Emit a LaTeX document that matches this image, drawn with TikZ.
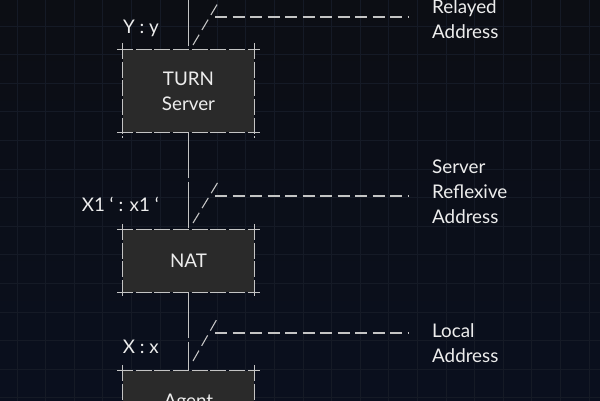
\documentclass[tikz,border=0pt]{standalone}
\usepackage{fontspec}
\setmainfont{Lato}

\definecolor{bgtop}{HTML}{0C0E14}
\definecolor{bgbot}{HTML}{0A0F1E}
\definecolor{gridcol}{HTML}{151A26}
\definecolor{boxfill}{HTML}{2A2A2A}
\definecolor{linecol}{HTML}{C4C4C4}
\definecolor{textcol}{HTML}{EDEDED}

\tikzset{
  hostbox/.style={fill=boxfill, minimum width=131pt, inner sep=0pt, align=center,
    text=textcol, font=\fontsize{18.8}{25}\selectfont},
  portlabel/.style={anchor=base east, inner sep=0pt, text=textcol, font=\fontsize{18.8}{25}\selectfont},
  addrlabel/.style={anchor=north west, inner sep=0pt, align=left, text=textcol,
    font=\fontsize{18.8}{25}\selectfont},
  boxline/.style={draw=linecol, line width=1.1pt, dash pattern=on 16pt off 2.7pt},
  linkline/.style={draw=linecol, line width=1.1pt, dash pattern=on 12pt off 5.5pt},
  pathline/.style={draw=linecol, line width=1.1pt, dash pattern=on 46pt off 4pt}
}

\begin{document}
\begin{tikzpicture}[x=1pt, y=-1pt]
\clip (0,0) rectangle (600,400);
\shade[top color=bgtop, bottom color=bgbot] (0,0) rectangle (600,400);
\draw[gridcol, line width=0.8pt, shift={(17,26)}] (-28.6,-28.6) grid[step=28.6pt] (600,400);

% hosts
\node[hostbox, minimum height=82pt] (turn) at (188.5,91) {TURN\\Server};
\node[hostbox, minimum height=62pt] (nat) at (188.5,261) {NAT};
\node[hostbox, minimum height=62pt] (agent) at (188.5,402) {Agent};

% crop frames
\draw[boxline] ([xshift=-6pt]turn.north west) -- ([xshift=6pt]turn.north east)
  ([xshift=-6pt]turn.south west) -- ([xshift=6pt]turn.south east);
\draw[boxline] ([yshift=7pt]turn.north west) -- ([yshift=-6pt]turn.south west)
  ([yshift=7pt]turn.north east) -- ([yshift=-6pt]turn.south east);
\draw[boxline] ([xshift=-6pt]nat.north west) -- ([xshift=6pt]nat.north east)
  ([xshift=-6pt]nat.south west) -- ([xshift=6pt]nat.south east);
\draw[boxline] ([yshift=6pt]nat.north west) -- ([yshift=-6pt]nat.south west)
  ([yshift=6pt]nat.north east) -- ([yshift=-6pt]nat.south east);
\draw[boxline] ([xshift=-6pt]agent.north west) -- ([xshift=6pt]agent.north east);
\draw[boxline] ([yshift=6pt]agent.north west) -- ([yshift=-6pt]agent.south west)
  ([yshift=6pt]agent.north east) -- ([yshift=-6pt]agent.south east);

% path between hosts
\coordinate (top) at (188.5,0);
\draw[pathline] (top) -- (turn.north);
\draw[pathline] (turn.south) -- (nat.north);
\draw[pathline] (nat.south) -- (agent.north);

% transport addresses
\node[portlabel] (relayport) at (159,33) {Y : y};
\node[portlabel] (reflexport) at (159,211.5) {X1 ‘ : x1 ‘};
\node[portlabel] (localport) at (159,353.5) {X : x};

\node[addrlabel] (relayed) at (432,-1) {Relayed\\Address};
\node[addrlabel] (reflexive) at (432,160) {Server\\Reflexive\\Address};
\node[addrlabel] (local) at (432,323) {Local\\Address};

\coordinate (relayfoot) at (193,45);
\coordinate (relaytip) at (218,3);
\coordinate (relayjoin) at (215,17);
\coordinate (reflexfoot) at (193,223);
\coordinate (reflextip) at (218,182);
\coordinate (reflexjoin) at (215,196);
\coordinate (localfoot) at (193,361);
\coordinate (localtip) at (217,319);
\coordinate (localjoin) at (215,333);

\draw[linkline] (relayfoot) -- (relaytip);
\draw[linkline, shorten >=24pt] (relayjoin) -- (relayjoin -| relayed.west);
\draw[linkline] (reflexfoot) -- (reflextip);
\draw[linkline, shorten >=24pt] (reflexjoin) -- (reflexjoin -| reflexive.west);
\draw[linkline] (localfoot) -- (localtip);
\draw[linkline, shorten >=24pt] (localjoin) -- (localjoin -| local.west);
\end{tikzpicture}
\end{document}
